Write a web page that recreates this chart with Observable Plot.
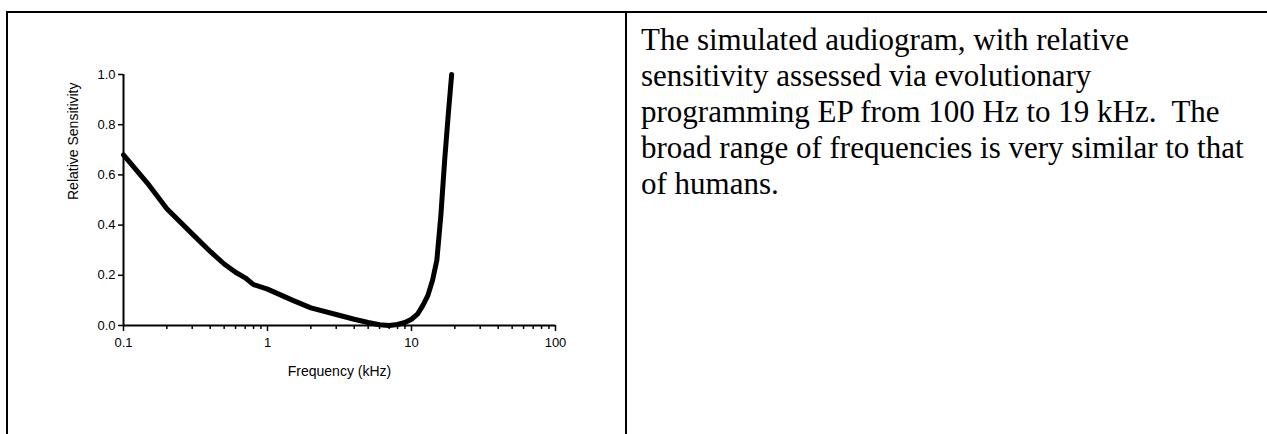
<!DOCTYPE html>
<html><head><meta charset="utf-8">
<script src="https://cdn.jsdelivr.net/npm/d3@7"></script>
<script src="https://cdn.jsdelivr.net/npm/@observablehq/plot@0.6"></script>
<style>
html,body{margin:0;padding:0;background:#fff;}
#page{position:relative;width:1267px;height:434px;overflow:hidden;background:#fff;}
.bt{position:absolute;left:6px;top:11px;width:1261px;height:2px;background:#000;}
.bl{position:absolute;left:6px;top:11px;width:2px;height:423px;background:#000;}
.bd{position:absolute;left:625px;top:11px;width:2px;height:423px;background:#000;}
#chart{position:absolute;left:0;top:0;}
#caption{position:absolute;left:641px;top:22px;font-family:"Liberation Serif","Times New Roman",serif;font-size:31px;line-height:36px;color:#000;white-space:pre;}
</style></head>
<body><div id="page"><div class="bt"></div><div class="bl"></div><div class="bd"></div><div id="chart"></div><div id="caption"></div></div>
<script>
const freqKHz =     [0.1, 0.15, 0.2, 0.3, 0.4, 0.5, 0.6, 0.7, 0.8, 1.0, 1.5, 2.0, 3.0, 4.0, 5.0, 6.0, 7.0, 8.0, 9.0, 10, 11, 12, 13, 14, 15, 16, 17, 18, 19];
const sensitivity = [0.68, 0.56, 0.465, 0.365, 0.295, 0.245, 0.212, 0.19, 0.163, 0.145, 0.10, 0.07, 0.044, 0.025, 0.012, 0.003, 0.0, 0.004, 0.012, 0.025, 0.045, 0.08, 0.12, 0.18, 0.26, 0.44, 0.66, 0.84, 1.0];
const yTicks = [0, 0.2, 0.4, 0.6, 0.8, 1.0];
const xMajorTicks = [0.1, 1, 10, 100];
const xMinorTicks = [0.2,0.3,0.4,0.5,0.6,0.7,0.8,0.9, 2,3,4,5,6,7,8,9, 20,30,40,50,60,70,80,90];
const xLabel = "Frequency (kHz)";
const yLabel = "Relative Sensitivity";
const captionLines = [
  "The simulated audiogram, with relative",
  "sensitivity assessed via evolutionary",
  "programming EP from 100 Hz to 19 kHz.  The",
  "broad range of frequencies is very similar to that",
  "of humans."
];

const data = freqKHz.map((f, i) => ({f, s: sensitivity[i]}));
const chart = Plot.plot({
  width: 626, height: 434,
  marginLeft: 123, marginRight: 71, marginTop: 74, marginBottom: 109,
  x: {type: "log", domain: [0.1, 100]},
  y: {domain: [0, 1]},
  style: {fontFamily: "'Liberation Sans', Arial, sans-serif", fontSize: "13px", background: "transparent", overflow: "visible", color: "#000"},
  marks: [
    Plot.axisY(yTicks, {tickSize: 5, tickPadding: 3, tickFormat: d => d.toFixed(1), label: null, strokeWidth: 1.5, fontSize: 13}),
    Plot.axisX(xMajorTicks, {tickSize: 6, tickPadding: 6, tickFormat: d => String(d), label: null, strokeWidth: 1.5, fontSize: 13}),
    Plot.axisX(xMinorTicks, {tickSize: 4, tickFormat: null, label: null, strokeWidth: 1.5}),
    Plot.ruleY([0], {strokeWidth: 2}),
    Plot.ruleX([0.1], {strokeWidth: 2}),
    Plot.line(data, {x: "f", y: "s", strokeWidth: 5, stroke: "#000", strokeLinejoin: "round"}),
    Plot.text([yLabel], {frameAnchor: "left", dx: -50, rotate: -90, fontSize: 14}),
    Plot.text([xLabel], {frameAnchor: "bottom", dy: 50, fontSize: 14})
  ]
});
document.getElementById("chart").appendChild(chart);
document.getElementById("caption").textContent = captionLines.join("\n");
</script>
</body></html>
